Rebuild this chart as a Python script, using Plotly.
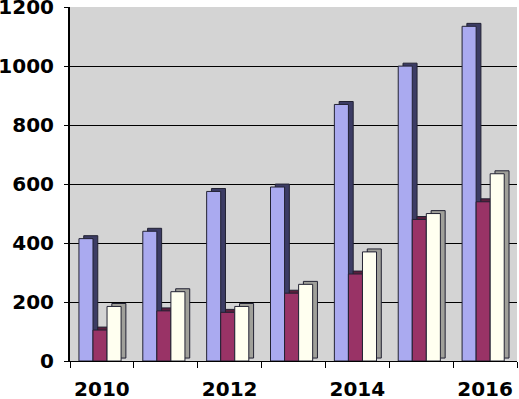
import plotly.graph_objects as go

years = [2010, 2011, 2012, 2013, 2014, 2015, 2016]
series_a = [415, 440, 575, 590, 870, 1000, 1135]
series_b = [105, 170, 165, 230, 295, 480, 540]
series_c = [185, 235, 185, 260, 370, 500, 635]
tick_years = [2010, 2012, 2014, 2016]
y_ticks = [0, 200, 400, 600, 800, 1000, 1200]

front_colors = ["#aaaaf0", "#993366", "#fffff0"]
side_colors = ["#3c3c64", "#5a1e3c", "#a0a09a"]
offsets = [-0.36, -0.14, 0.08]
w = 0.22
dx = 0.075
dy = 10

fig = go.Figure()
for vals, fc, sc, off in zip([series_a, series_b, series_c], front_colors, side_colors, offsets):
    # depth (side/top) face
    fig.add_trace(go.Bar(
        x=years, y=vals, base=[dy] * len(vals), width=w, offset=off + dx,
        marker=dict(color=sc, line=dict(color="#222233", width=1)),
        hoverinfo="skip", showlegend=False))
    # front face
    fig.add_trace(go.Bar(
        x=years, y=vals, width=w, offset=off,
        marker=dict(color=fc, line=dict(color="#222233", width=1)),
        showlegend=False))

fig.update_layout(
    width=519, height=399,
    barmode="overlay",
    paper_bgcolor="white",
    plot_bgcolor="#d4d4d4",
    margin=dict(l=70, r=2, t=7, b=38),
    font=dict(family="DejaVu Sans", size=20, color="black"),
    xaxis=dict(
        range=[2009.5, 2016.5],
        tickvals=tick_years,
        ticks="",
        showgrid=False,
        automargin=False,
        ticklabeloverflow="allow",
        showline=True, linecolor="black", linewidth=1,
        tickfont=dict(family="DejaVu Sans", size=20, color="black", weight="bold"),
        ticklabelstandoff=10,
        minor=dict(tick0=2009.5, dtick=1, ticks="outside", ticklen=6,
                   tickcolor="black", tickwidth=1, showgrid=False),
    ),
    yaxis=dict(
        range=[0, 1200.5],
        tickvals=y_ticks,
        showgrid=True, gridcolor="black", gridwidth=1,
        showline=True, linecolor="black", linewidth=2,
        automargin=False,
        ticklabeloverflow="allow",
        ticks="outside", ticklen=4, tickcolor="black",
        tickfont=dict(family="DejaVu Sans", size=20, color="black", weight="bold"),
        ticklabelstandoff=6,
        zeroline=False,
    ),
)

fig.write_html("out.html", config={"displayModeBar": False},
               post_script="document.body.style.margin='0';")
